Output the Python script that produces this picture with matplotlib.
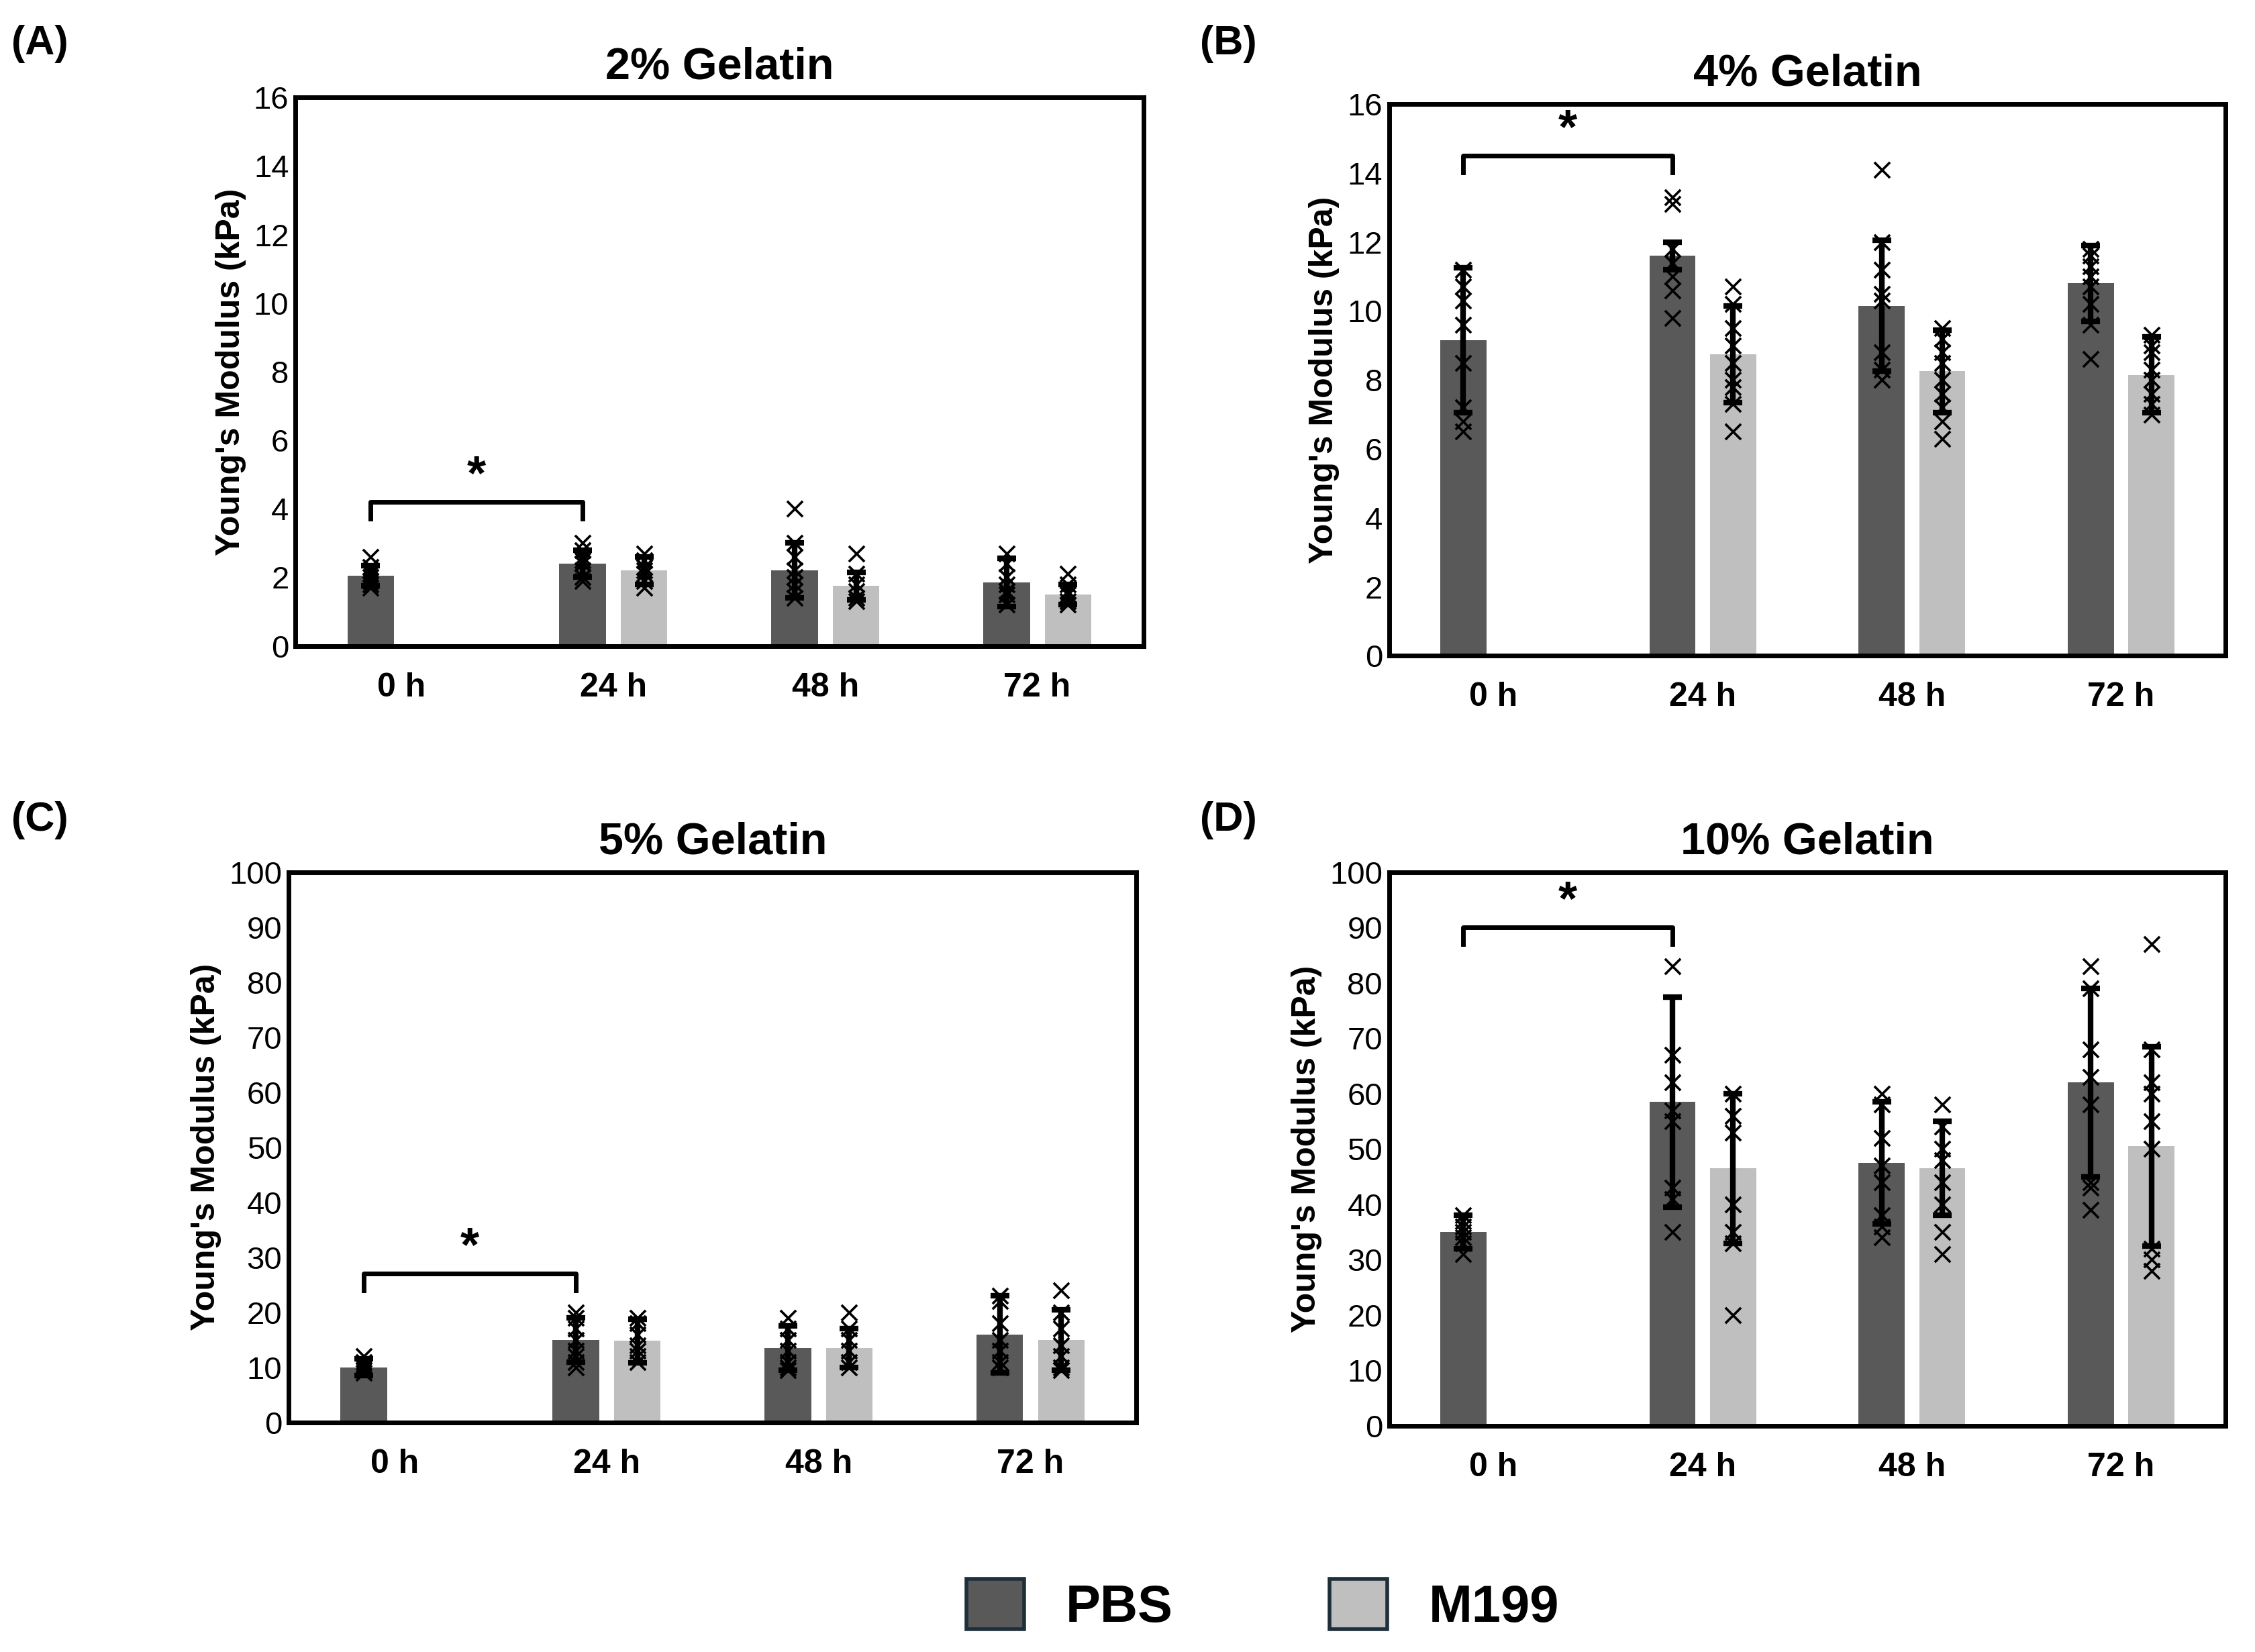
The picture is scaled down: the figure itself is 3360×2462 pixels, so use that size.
import matplotlib.pyplot as plt
from matplotlib.patches import Patch

times = ["0 h", "24 h", "48 h", "72 h"]
titles = ["2% Gelatin", "4% Gelatin", "5% Gelatin", "10% Gelatin"]
panel_tags = ["(A)", "(B)", "(C)", "(D)"]
y_limits = [16, 16, 100, 100]
y_steps = [2, 2, 10, 10]
bracket_y = [4.2, 14.5, 27, 90]

pbs_mean = [[2.05, 2.4, 2.2, 1.85], [9.15, 11.6, 10.15, 10.8],
            [10, 15, 13.5, 16], [35, 58.5, 47.5, 62]]
pbs_err = [[0.3, 0.4, 0.8, 0.7], [2.1, 0.4, 1.9, 1.1],
           [1.5, 4, 4, 7], [3, 19, 11, 17]]
m199_mean = [[None, 2.2, 1.75, 1.5], [None, 8.75, 8.25, 8.15],
             [None, 14.8, 13.5, 15], [None, 46.5, 46.5, 50.5]]
m199_err = [[None, 0.4, 0.4, 0.3], [None, 1.4, 1.2, 1.1],
            [None, 4, 3.5, 5.5], [None, 13.5, 8.5, 18]]

pbs_points = [
    [[2.6, 2.3, 2.1, 2.0, 1.9, 1.8, 1.7, 2.2], [3.0, 2.8, 2.6, 2.4, 2.2, 2.0, 1.9, 2.5],
     [4.0, 3.0, 2.6, 2.2, 1.8, 1.6, 1.4, 2.0], [2.7, 2.4, 2.0, 1.8, 1.5, 1.2, 1.6]],
    [[11.2, 10.7, 10.3, 9.6, 8.5, 7.2, 6.8, 6.5], [13.3, 13.1, 11.8, 11.4, 11.0, 10.6, 9.8],
     [14.1, 12.0, 11.2, 10.5, 10.3, 8.8, 8.3, 8.0], [11.8, 11.6, 11.3, 11.0, 10.7, 10.2, 9.6, 8.6]],
    [[12, 11, 10.5, 10, 9.5, 9], [20, 19, 17, 15, 13, 12, 11, 10],
     [19, 17, 15, 13, 11, 10, 9.5], [23, 22, 18, 15, 13, 11, 10]],
    [[38, 37, 36, 35, 34, 33, 31], [83, 67, 62, 57, 55, 43, 41, 35],
     [60, 58, 52, 47, 44, 38, 36, 34], [83, 79, 68, 63, 58, 44, 43, 39]],
]
m199_points = [
    [[], [2.7, 2.5, 2.3, 2.1, 1.9, 1.7, 2.2], [2.7, 2.1, 1.8, 1.6, 1.4, 1.3], [2.1, 1.8, 1.5, 1.3, 1.2, 1.6]],
    [[], [10.7, 10.2, 9.5, 9.0, 8.5, 8.0, 7.8, 7.3, 6.5], [9.5, 9.2, 8.8, 8.5, 8.0, 7.6, 7.2, 6.8, 6.3],
     [9.3, 9.0, 8.8, 8.3, 8.0, 7.6, 7.3, 7.0]],
    [[], [19, 18, 16, 14, 13, 12, 11], [20, 17, 15, 13, 11, 10], [24, 20, 17, 14, 12, 10, 9.5]],
    [[], [60, 56, 53, 40, 35, 33, 20], [58, 54, 50, 48, 44, 40, 35, 31],
     [87, 68, 62, 60, 55, 50, 32, 30, 28]],
]

dark = "#595959"
light = "#bfbfbf"
plt.rcParams.update({"font.family": "Liberation Sans", "font.size": 16})

fig = plt.figure(figsize=(16.8, 12.31), dpi=200)
boxes = [(0.131, 0.609, 0.376, 0.332), (0.616, 0.603, 0.371, 0.334),
         (0.128, 0.139, 0.376, 0.333), (0.616, 0.137, 0.371, 0.335)]
tag_pos = [(0.005, 0.985), (0.532, 0.985), (0.005, 0.515), (0.532, 0.515)]
off, w = 0.145, 0.22

for i in range(4):
    ax = fig.add_axes(boxes[i])
    for g in range(4):
        xp = g - off
        ax.bar(xp, pbs_mean[i][g], w, color=dark, zorder=1)
        ax.errorbar(xp, pbs_mean[i][g], yerr=pbs_err[i][g], color="black", lw=3,
                    capsize=5, capthick=3, zorder=3)
        ax.scatter([xp] * len(pbs_points[i][g]), pbs_points[i][g], marker="x",
                   color="black", s=70, lw=1.3, zorder=4)
        if m199_mean[i][g] is not None:
            xm = g + off
            ax.bar(xm, m199_mean[i][g], w, color=light, zorder=1)
            ax.errorbar(xm, m199_mean[i][g], yerr=m199_err[i][g], color="black", lw=3,
                        capsize=5, capthick=3, zorder=3)
            ax.scatter([xm] * len(m199_points[i][g]), m199_points[i][g], marker="x",
                       color="black", s=70, lw=1.3, zorder=4)
    yb = bracket_y[i]
    tick = y_limits[i] * 0.03
    ax.plot([-off, -off, 1 - off, 1 - off], [yb - tick, yb, yb, yb - tick], color="black", lw=2.5)
    ax.text(0.5 - off, yb + y_limits[i] * 0.005, "*", ha="center", va="bottom",
            fontsize=26, fontweight="bold")
    ax.set_xlim(-0.5, 3.5)
    ax.set_ylim(0, y_limits[i])
    ax.set_yticks(range(0, y_limits[i] + 1, y_steps[i]))
    ax.set_xticks(range(4))
    ax.set_xticklabels(times, fontweight="bold", fontsize=18)
    ax.tick_params(axis="x", length=0, pad=14)
    ax.tick_params(axis="y", labelsize=17, length=0)
    for s in ax.spines.values():
        s.set_linewidth(2.5)
    ax.set_ylabel("Young's Modulus (kPa)", fontweight="bold", fontsize=18)
    ax.set_title(titles[i], fontweight="bold", fontsize=24, pad=10)
    fig.text(*tag_pos[i], panel_tags[i], fontweight="bold", fontsize=22, va="top")

handles = [Patch(facecolor=dark, edgecolor="#1f2f3a", lw=2, label="PBS"),
           Patch(facecolor=light, edgecolor="#1f2f3a", lw=2, label="M199")]
fig.legend(handles=handles, loc="center", bbox_to_anchor=(0.56, 0.028), ncol=2,
           frameon=False, prop={"weight": "bold", "size": 28}, handlelength=1.1,
           handleheight=1.1, columnspacing=3)
fig.savefig("out.png", dpi=200)
